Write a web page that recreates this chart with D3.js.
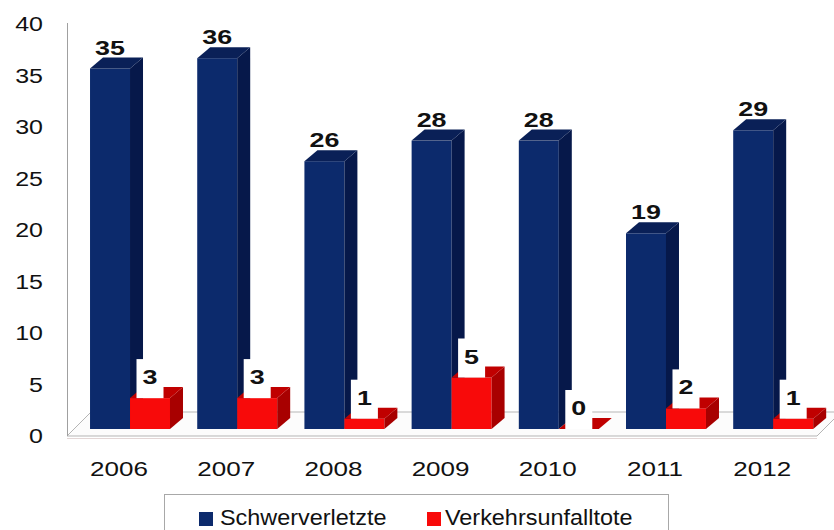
<!DOCTYPE html>
<html>
  <head>
    <style>
      body { margin: 0; background: #fff; }
      text { font-family: 'Liberation Sans', Arial, sans-serif; fill: #111; }
      .val { font-weight: bold; }
    </style>
  </head>
  <body>
    <script src="https://d3js.org/d3.v7.min.js"></script>
    <script>
      var years = ["2006", "2007", "2008", "2009", "2010", "2011", "2012"];
      var schwerverletzte = [35, 36, 26, 28, 28, 19, 29];
      var verkehrsunfalltote = [3, 3, 1, 5, 0, 2, 1];
      var seriesNames = ["Schwerverletzte", "Verkehrsunfalltote"];
      var yTicks = [0, 5, 10, 15, 20, 25, 30, 35, 40];

      var width = 834, height = 530;
      var depthX = 13, depthY = -11;

      var colors = {
        Schwerverletzte: { front: "#0c2a6c", side: "#06184a", top: "#0a2057" },
        Verkehrsunfalltote: { front: "#f80a0a", side: "#a80000", top: "#c00000" }
      };

      var svg = d3.select("body").append("svg")
        .attr("width", width)
        .attr("height", height);

      var y = d3.scaleLinear().domain([0, 40]).range([429, 17]);

      var x = d3.scaleBand()
        .domain(years)
        .range([62.8, 840.4])
        .padding(0.254);

      var xs = d3.scaleBand()
        .domain(seriesNames)
        .range([0, x.bandwidth()]);

      // floor
      svg.append("polygon")
        .attr("points", [[67, 436], [817, 436], [841, 412], [91, 412]].join(" "))
        .attr("fill", "#fcfcfc")
        .attr("stroke", "#b5b5b5")
        .attr("stroke-width", 1);
      svg.append("line")
        .attr("x1", 67).attr("x2", 817)
        .attr("y1", 438.5).attr("y2", 438.5)
        .attr("stroke", "#e2d6d6");

      // vertical axis line
      svg.append("line")
        .attr("x1", 67.5).attr("x2", 67.5)
        .attr("y1", 23).attr("y2", 436)
        .attr("stroke", "#a0a0a0");

      // y tick labels
      svg.append("g").selectAll("text")
        .data(yTicks)
        .enter().append("text")
        .attr("transform", function(d) { return "translate(43," + (y(d) + 9) + ") scale(1.25,1)"; })
        .attr("text-anchor", "end")
        .attr("dominant-baseline", "middle")
        .style("font-size", "20px")
        .text(function(d) { return d; });

      var rows = years.map(function(yr, i) {
        return { year: yr, values: [schwerverletzte[i], verkehrsunfalltote[i]] };
      });

      function drawBar(g, x0, w, v, c) {
        var yt = y(v), yb = y(0);
        g.append("rect")
          .attr("x", x0).attr("y", yt)
          .attr("width", w).attr("height", yb - yt)
          .attr("fill", c.front);
        g.append("polygon")
          .attr("points", [[x0 + w, yt], [x0 + w + depthX, yt + depthY], [x0 + w + depthX, yb + depthY], [x0 + w, yb]].join(" "))
          .attr("fill", c.side);
        g.append("polygon")
          .attr("points", [[x0, yt], [x0 + depthX, yt + depthY], [x0 + w + depthX, yt + depthY], [x0 + w, yt]].join(" "))
          .attr("fill", c.top);
      }

      var groups = svg.append("g").selectAll("g")
        .data(rows)
        .enter().append("g");

      groups.each(function(d) {
        var g = d3.select(this);
        var gx = x(d.year);
        seriesNames.forEach(function(s, j) {
          drawBar(g, gx + xs(s), xs.bandwidth(), d.values[j], colors[s]);
        });
        seriesNames.forEach(function(s, j) {
          var v = d.values[j];
          var cx = gx + xs(s) + xs.bandwidth() / 2;
          // red labels sit on a white box that hides the blue side
          if (j === 1) {
            g.append("rect")
              .attr("x", cx - 13.5).attr("y", y(v) - 39)
              .attr("width", 27).attr("height", 39)
              .attr("fill", "#fff");
          }
          g.append("text")
            .attr("class", "val")
            .attr("transform", "translate(" + cx + "," + (y(v) - 14) + ") scale(1.28,1)")
            .attr("text-anchor", "middle")
            .style("font-size", "21px")
            .text(v);
        });
      });

      // year labels
      svg.append("g").selectAll("text")
        .data(years)
        .enter().append("text")
        .attr("transform", function(d) { return "translate(" + (x(d) + x.bandwidth() / 2 - 11) + ",476) scale(1.24,1)"; })
        .attr("text-anchor", "middle")
        .style("font-size", "21px")
        .text(function(d) { return d; });

      // legend
      var legend = svg.append("g");
      legend.append("rect")
        .attr("x", 164.5).attr("y", 494.5)
        .attr("width", 504).attr("height", 60)
        .attr("fill", "#fff")
        .attr("stroke", "#a8a8a8");
      var legendItems = [
        { name: seriesNames[0], sx: 199, tx: 220 },
        { name: seriesNames[1], sx: 427, tx: 445 }
      ];
      legendItems.forEach(function(it) {
        legend.append("rect")
          .attr("x", it.sx).attr("y", 512)
          .attr("width", 14).attr("height", 14)
          .attr("fill", colors[it.name].front);
        legend.append("text")
          .attr("transform", "translate(" + it.tx + ",525) scale(1.09,1)")
          .style("font-size", "21.5px")
          .text(it.name);
      });
    </script>
  </body>
</html>
